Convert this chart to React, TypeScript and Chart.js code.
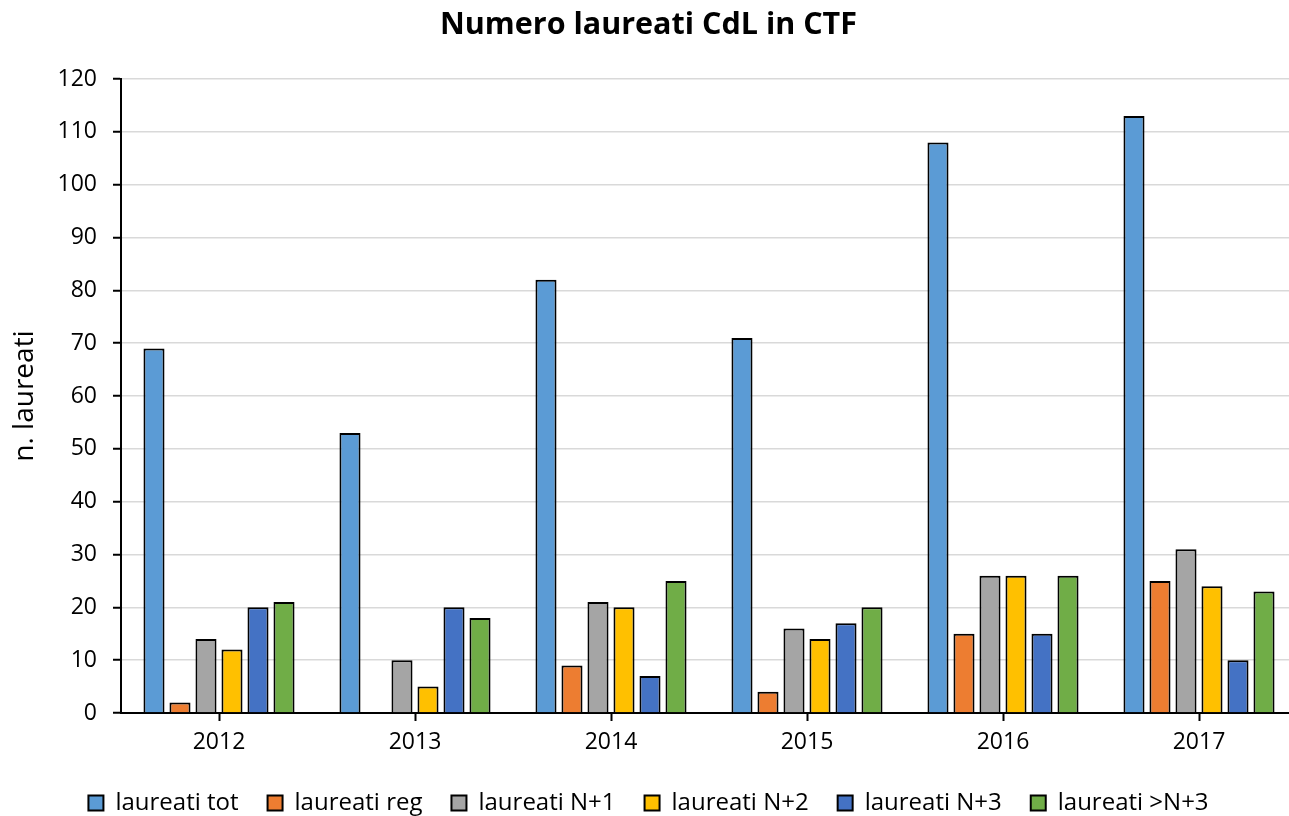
import React, { useEffect, useRef } from "react";
import { Chart, registerables } from "chart.js";

Chart.register(...registerables);

const years = ["2012", "2013", "2014", "2015", "2016", "2017"];
const seriesNames = ["laureati tot", "laureati reg", "laureati N+1", "laureati N+2", "laureati N+3", "laureati >N+3"];
const tot = [69, 53, 82, 71, 108, 113];
const reg = [2, 0, 9, 4, 15, 25];
const n1 = [14, 10, 21, 16, 26, 31];
const n2 = [12, 5, 20, 14, 26, 24];
const n3 = [20, 20, 7, 17, 15, 10];
const over3 = [21, 18, 25, 20, 26, 23];
const colors = ["#5B9BD5", "#ED7D31", "#A5A5A5", "#FFC000", "#4472C4", "#70AD47"];

const FONT = "'Open Sans', sans-serif";

export default function App() {
  const ref = useRef<HTMLCanvasElement | null>(null);
  useEffect(() => {
    if (!ref.current) return;
    const all = [tot, reg, n1, n2, n3, over3];
    const chart = new Chart(ref.current, {
      type: "bar",
      data: {
        labels: years,
        datasets: all.map((d, i) => ({
          label: seriesNames[i],
          data: d,
          backgroundColor: colors[i],
          borderColor: "#000000",
          borderWidth: 2,
          categoryPercentage: 0.796,
          barPercentage: 0.81,
        })),
      },
      options: {
        responsive: false,
        animation: false,
        layout: { padding: { left: 0, right: 3, top: 0, bottom: 0 } },
        plugins: {
          title: {
            display: true,
            text: "Numero laureati CdL in CTF",
            color: "#000",
            font: { family: FONT, size: 30.5, weight: "bold" },
            padding: { top: 7, bottom: 35.4 },
          },
          legend: {
            position: "bottom",
            maxHeight: 54,
            labels: {
              color: "#000",
              font: { family: FONT, size: 24 },
              boxWidth: 15,
              boxHeight: 15,
              padding: 29,
            },
          },
          tooltip: { enabled: false },
        },
        scales: {
          x: {
            afterFit: (s: any) => { s.height = 49; },
            grid: {
              display: true,
              drawOnChartArea: false,
              offset: false,
              tickLength: 8,
              tickColor: "#000",
              tickWidth: 2,
            },
            border: { color: "#000", width: 2 },
            ticks: { color: "#000", font: { family: FONT, size: 23 }, padding: 8 },
          },
          y: {
            min: 0,
            max: 120,
            afterFit: (s: any) => { s.width = 121; },
            ticks: { stepSize: 10, color: "#000", font: { family: FONT, size: 23 }, padding: 16 },
            grid: { color: "#d9d9d9", lineWidth: 1.5, tickLength: 8, tickColor: "#000", tickWidth: 2 },
            border: { color: "#000", width: 2 },
            title: {
              display: true,
              text: "n. laureati",
              color: "#000",
              font: { family: FONT, size: 28 },
              padding: { top: 8, bottom: 0 },
            },
          },
        },
      },
    });
    return () => chart.destroy();
  }, []);
  return (
    <div style={{ position: "fixed", left: 0, top: 0, width: 1289, height: 816, overflow: "hidden", background: "#fff" }}>
      <canvas ref={ref} width={1300} height={816} style={{ display: "block" }} />
    </div>
  );
}
